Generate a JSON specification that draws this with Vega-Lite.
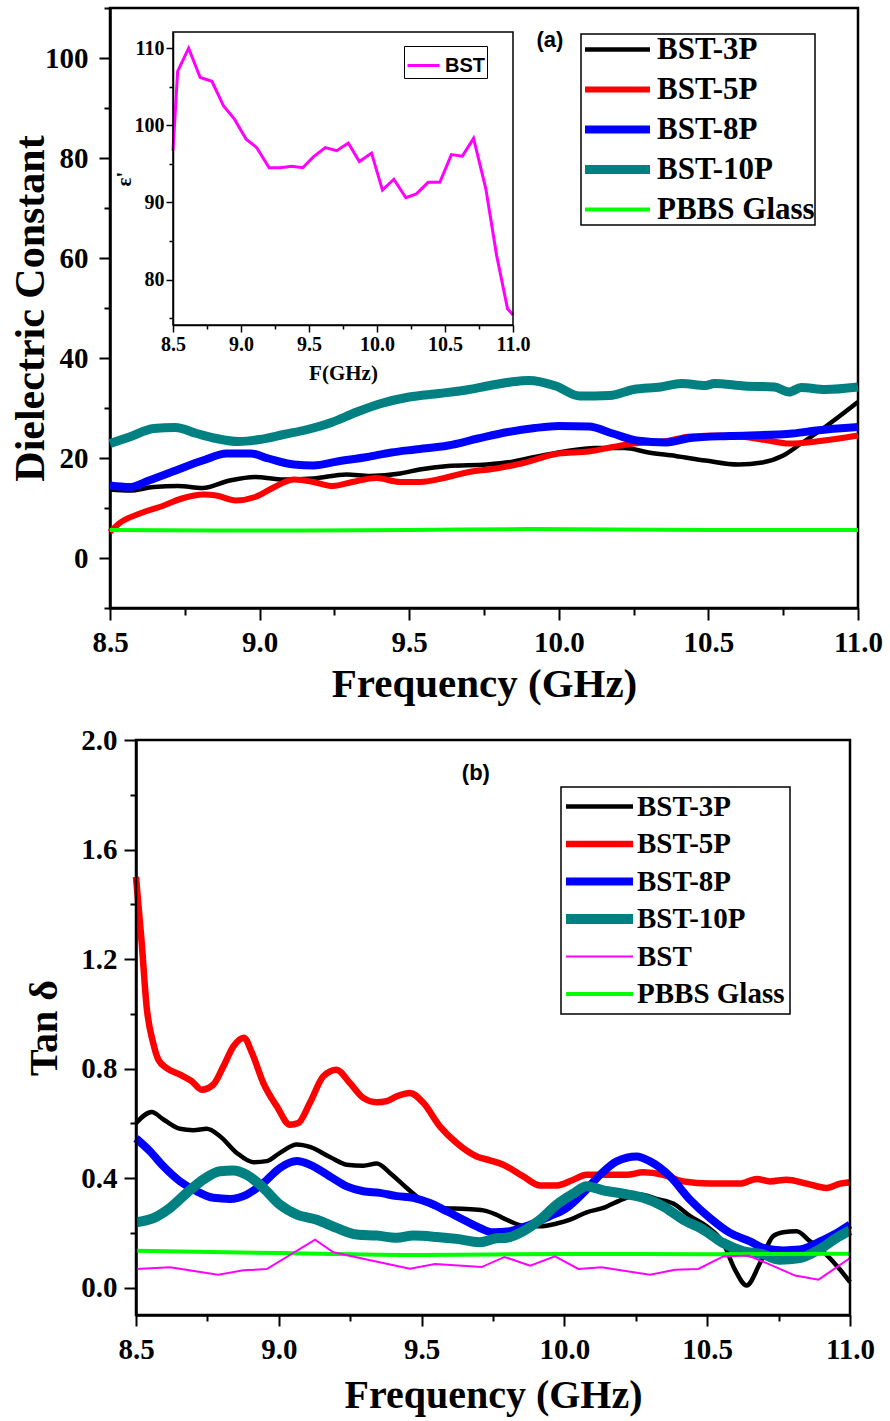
{
  "$schema": "https://vega.github.io/schema/vega-lite/v6.json",
  "background": "white",
  "padding": {"left": 8, "top": 5, "right": 5, "bottom": 5},
  "spacing": 20,
  "resolve": {"scale": {"color": "independent"}, "legend": {"color": "independent"}},
  "datasets": {
    "a": [
      {"f":8.5,"v":13.7,"s":"BST-3P"},{"f":8.565,"v":13.5,"s":"BST-3P"},{"f":8.646,"v":14.2,"s":"BST-3P"},{"f":8.727,"v":14.4,"s":"BST-3P"},{"f":8.81,"v":14.0,"s":"BST-3P"},{"f":8.9,"v":15.5,"s":"BST-3P"},{"f":8.985,"v":16.2,"s":"BST-3P"},{"f":9.08,"v":15.7,"s":"BST-3P"},{"f":9.18,"v":15.9,"s":"BST-3P"},{"f":9.29,"v":16.7,"s":"BST-3P"},{"f":9.37,"v":16.4,"s":"BST-3P"},{"f":9.47,"v":16.9,"s":"BST-3P"},{"f":9.535,"v":17.7,"s":"BST-3P"},{"f":9.63,"v":18.4,"s":"BST-3P"},{"f":9.76,"v":18.7,"s":"BST-3P"},{"f":9.84,"v":19.2,"s":"BST-3P"},{"f":9.92,"v":20.2,"s":"BST-3P"},{"f":10.02,"v":21.3,"s":"BST-3P"},{"f":10.12,"v":22.0,"s":"BST-3P"},{"f":10.22,"v":22.0,"s":"BST-3P"},{"f":10.3,"v":21.1,"s":"BST-3P"},{"f":10.39,"v":20.4,"s":"BST-3P"},{"f":10.49,"v":19.5,"s":"BST-3P"},{"f":10.6,"v":18.7,"s":"BST-3P"},{"f":10.68,"v":19.1,"s":"BST-3P"},{"f":10.75,"v":20.5,"s":"BST-3P"},{"f":10.81,"v":22.9,"s":"BST-3P"},{"f":10.89,"v":26.2,"s":"BST-3P"},{"f":11.0,"v":31.2,"s":"BST-3P"},
      {"f":8.5,"v":5.2,"s":"BST-5P"},{"f":8.53,"v":6.9,"s":"BST-5P"},{"f":8.6,"v":8.9,"s":"BST-5P"},{"f":8.68,"v":10.5,"s":"BST-5P"},{"f":8.74,"v":11.9,"s":"BST-5P"},{"f":8.815,"v":12.7,"s":"BST-5P"},{"f":8.855,"v":12.5,"s":"BST-5P"},{"f":8.92,"v":11.5,"s":"BST-5P"},{"f":8.985,"v":12.2,"s":"BST-5P"},{"f":9.05,"v":14.2,"s":"BST-5P"},{"f":9.115,"v":15.7,"s":"BST-5P"},{"f":9.18,"v":15.2,"s":"BST-5P"},{"f":9.245,"v":14.4,"s":"BST-5P"},{"f":9.31,"v":15.2,"s":"BST-5P"},{"f":9.39,"v":16.0,"s":"BST-5P"},{"f":9.47,"v":15.2,"s":"BST-5P"},{"f":9.535,"v":15.2,"s":"BST-5P"},{"f":9.63,"v":16.2,"s":"BST-5P"},{"f":9.7,"v":17.2,"s":"BST-5P"},{"f":9.79,"v":17.9,"s":"BST-5P"},{"f":9.875,"v":18.9,"s":"BST-5P"},{"f":10.0,"v":20.9,"s":"BST-5P"},{"f":10.1,"v":21.3,"s":"BST-5P"},{"f":10.18,"v":22.2,"s":"BST-5P"},{"f":10.25,"v":22.9,"s":"BST-5P"},{"f":10.35,"v":23.3,"s":"BST-5P"},{"f":10.44,"v":24.3,"s":"BST-5P"},{"f":10.54,"v":24.5,"s":"BST-5P"},{"f":10.62,"v":24.2,"s":"BST-5P"},{"f":10.7,"v":23.5,"s":"BST-5P"},{"f":10.77,"v":22.9,"s":"BST-5P"},{"f":10.86,"v":23.3,"s":"BST-5P"},{"f":11.0,"v":24.5,"s":"BST-5P"},
      {"f":8.5,"v":14.5,"s":"BST-8P"},{"f":8.565,"v":14.2,"s":"BST-8P"},{"f":8.63,"v":15.5,"s":"BST-8P"},{"f":8.71,"v":17.3,"s":"BST-8P"},{"f":8.81,"v":19.5,"s":"BST-8P"},{"f":8.89,"v":20.9,"s":"BST-8P"},{"f":8.97,"v":20.9,"s":"BST-8P"},{"f":9.03,"v":19.9,"s":"BST-8P"},{"f":9.115,"v":18.7,"s":"BST-8P"},{"f":9.18,"v":18.5,"s":"BST-8P"},{"f":9.26,"v":19.3,"s":"BST-8P"},{"f":9.36,"v":20.2,"s":"BST-8P"},{"f":9.44,"v":21.1,"s":"BST-8P"},{"f":9.52,"v":21.7,"s":"BST-8P"},{"f":9.63,"v":22.5,"s":"BST-8P"},{"f":9.73,"v":23.9,"s":"BST-8P"},{"f":9.83,"v":25.2,"s":"BST-8P"},{"f":9.92,"v":26.0,"s":"BST-8P"},{"f":10.0,"v":26.4,"s":"BST-8P"},{"f":10.1,"v":26.3,"s":"BST-8P"},{"f":10.18,"v":24.9,"s":"BST-8P"},{"f":10.26,"v":23.5,"s":"BST-8P"},{"f":10.36,"v":23.1,"s":"BST-8P"},{"f":10.44,"v":24.0,"s":"BST-8P"},{"f":10.57,"v":24.4,"s":"BST-8P"},{"f":10.73,"v":24.7,"s":"BST-8P"},{"f":10.78,"v":24.9,"s":"BST-8P"},{"f":10.86,"v":25.5,"s":"BST-8P"},{"f":11.0,"v":26.2,"s":"BST-8P"},
      {"f":8.5,"v":22.9,"s":"BST-10P"},{"f":8.565,"v":24.2,"s":"BST-10P"},{"f":8.646,"v":25.9,"s":"BST-10P"},{"f":8.718,"v":26.1,"s":"BST-10P"},{"f":8.79,"v":24.9,"s":"BST-10P"},{"f":8.856,"v":23.9,"s":"BST-10P"},{"f":8.93,"v":23.3,"s":"BST-10P"},{"f":9.0,"v":23.7,"s":"BST-10P"},{"f":9.08,"v":24.7,"s":"BST-10P"},{"f":9.16,"v":25.7,"s":"BST-10P"},{"f":9.24,"v":27.1,"s":"BST-10P"},{"f":9.325,"v":29.2,"s":"BST-10P"},{"f":9.406,"v":30.9,"s":"BST-10P"},{"f":9.5,"v":32.2,"s":"BST-10P"},{"f":9.6,"v":32.9,"s":"BST-10P"},{"f":9.7,"v":33.7,"s":"BST-10P"},{"f":9.76,"v":34.4,"s":"BST-10P"},{"f":9.84,"v":35.2,"s":"BST-10P"},{"f":9.9,"v":35.5,"s":"BST-10P"},{"f":9.99,"v":34.4,"s":"BST-10P"},{"f":10.07,"v":32.4,"s":"BST-10P"},{"f":10.17,"v":32.5,"s":"BST-10P"},{"f":10.25,"v":33.7,"s":"BST-10P"},{"f":10.34,"v":34.2,"s":"BST-10P"},{"f":10.41,"v":34.9,"s":"BST-10P"},{"f":10.49,"v":34.5,"s":"BST-10P"},{"f":10.52,"v":34.9,"s":"BST-10P"},{"f":10.62,"v":34.4,"s":"BST-10P"},{"f":10.72,"v":34.2,"s":"BST-10P"},{"f":10.77,"v":33.2,"s":"BST-10P"},{"f":10.81,"v":34.1,"s":"BST-10P"},{"f":10.89,"v":33.7,"s":"BST-10P"},{"f":11.0,"v":34.2,"s":"BST-10P"},
      {"f":8.5,"v":5.6,"s":"PBBS Glass"},{"f":9.0,"v":5.5,"s":"PBBS Glass"},{"f":9.5,"v":5.6,"s":"PBBS Glass"},{"f":9.9,"v":5.8,"s":"PBBS Glass"},{"f":10.5,"v":5.6,"s":"PBBS Glass"},{"f":11.0,"v":5.6,"s":"PBBS Glass"}
    ],
    "eps": [
      {"f":8.5,"v":96.7,"s":"BST"},{"f":8.534,"v":107.0,"s":"BST"},{"f":8.615,"v":110.0,"s":"BST"},{"f":8.7,"v":106.2,"s":"BST"},{"f":8.786,"v":105.7,"s":"BST"},{"f":8.872,"v":102.5,"s":"BST"},{"f":8.952,"v":100.8,"s":"BST"},{"f":9.038,"v":98.2,"s":"BST"},{"f":9.116,"v":97.1,"s":"BST"},{"f":9.207,"v":94.5,"s":"BST"},{"f":9.288,"v":94.5,"s":"BST"},{"f":9.373,"v":94.7,"s":"BST"},{"f":9.454,"v":94.5,"s":"BST"},{"f":9.532,"v":95.9,"s":"BST"},{"f":9.62,"v":97.1,"s":"BST"},{"f":9.703,"v":96.7,"s":"BST"},{"f":9.789,"v":97.7,"s":"BST"},{"f":9.87,"v":95.3,"s":"BST"},{"f":9.96,"v":96.4,"s":"BST"},{"f":10.04,"v":91.6,"s":"BST"},{"f":10.124,"v":93.0,"s":"BST"},{"f":10.212,"v":90.6,"s":"BST"},{"f":10.29,"v":91.1,"s":"BST"},{"f":10.376,"v":92.6,"s":"BST"},{"f":10.462,"v":92.6,"s":"BST"},{"f":10.547,"v":96.2,"s":"BST"},{"f":10.628,"v":96.0,"s":"BST"},{"f":10.71,"v":98.3,"s":"BST"},{"f":10.8,"v":91.8,"s":"BST"},{"f":10.88,"v":83.1,"s":"BST"},{"f":10.96,"v":76.2,"s":"BST"},{"f":11.0,"v":75.4,"s":"BST"}
    ],
    "b": [
      {"f":8.5,"v":0.6,"s":"BST-3P"},{"f":8.555,"v":0.641,"s":"BST-3P"},{"f":8.596,"v":0.614,"s":"BST-3P"},{"f":8.654,"v":0.58,"s":"BST-3P"},{"f":8.701,"v":0.575,"s":"BST-3P"},{"f":8.748,"v":0.58,"s":"BST-3P"},{"f":8.794,"v":0.553,"s":"BST-3P"},{"f":8.853,"v":0.492,"s":"BST-3P"},{"f":8.911,"v":0.458,"s":"BST-3P"},{"f":8.958,"v":0.462,"s":"BST-3P"},{"f":9.004,"v":0.492,"s":"BST-3P"},{"f":9.063,"v":0.523,"s":"BST-3P"},{"f":9.109,"v":0.514,"s":"BST-3P"},{"f":9.179,"v":0.477,"s":"BST-3P"},{"f":9.238,"v":0.449,"s":"BST-3P"},{"f":9.296,"v":0.445,"s":"BST-3P"},{"f":9.343,"v":0.453,"s":"BST-3P"},{"f":9.389,"v":0.419,"s":"BST-3P"},{"f":9.448,"v":0.364,"s":"BST-3P"},{"f":9.494,"v":0.324,"s":"BST-3P"},{"f":9.564,"v":0.291,"s":"BST-3P"},{"f":9.658,"v":0.287,"s":"BST-3P"},{"f":9.716,"v":0.282,"s":"BST-3P"},{"f":9.762,"v":0.266,"s":"BST-3P"},{"f":9.798,"v":0.248,"s":"BST-3P"},{"f":9.856,"v":0.226,"s":"BST-3P"},{"f":9.915,"v":0.224,"s":"BST-3P"},{"f":9.973,"v":0.234,"s":"BST-3P"},{"f":10.02,"v":0.248,"s":"BST-3P"},{"f":10.078,"v":0.275,"s":"BST-3P"},{"f":10.136,"v":0.291,"s":"BST-3P"},{"f":10.195,"v":0.319,"s":"BST-3P"},{"f":10.265,"v":0.34,"s":"BST-3P"},{"f":10.323,"v":0.324,"s":"BST-3P"},{"f":10.381,"v":0.307,"s":"BST-3P"},{"f":10.44,"v":0.261,"s":"BST-3P"},{"f":10.498,"v":0.224,"s":"BST-3P"},{"f":10.556,"v":0.163,"s":"BST-3P"},{"f":10.597,"v":0.066,"s":"BST-3P"},{"f":10.638,"v":0.008,"s":"BST-3P"},{"f":10.685,"v":0.09,"s":"BST-3P"},{"f":10.731,"v":0.188,"s":"BST-3P"},{"f":10.766,"v":0.202,"s":"BST-3P"},{"f":10.813,"v":0.206,"s":"BST-3P"},{"f":10.86,"v":0.169,"s":"BST-3P"},{"f":10.918,"v":0.12,"s":"BST-3P"},{"f":10.965,"v":0.066,"s":"BST-3P"},{"f":11.0,"v":0.02,"s":"BST-3P"},
      {"f":8.5,"v":1.5,"s":"BST-5P"},{"f":8.52,"v":1.259,"s":"BST-5P"},{"f":8.537,"v":1.028,"s":"BST-5P"},{"f":8.56,"v":0.894,"s":"BST-5P"},{"f":8.578,"v":0.833,"s":"BST-5P"},{"f":8.607,"v":0.802,"s":"BST-5P"},{"f":8.654,"v":0.778,"s":"BST-5P"},{"f":8.695,"v":0.754,"s":"BST-5P"},{"f":8.73,"v":0.723,"s":"BST-5P"},{"f":8.771,"v":0.742,"s":"BST-5P"},{"f":8.806,"v":0.808,"s":"BST-5P"},{"f":8.841,"v":0.881,"s":"BST-5P"},{"f":8.878,"v":0.913,"s":"BST-5P"},{"f":8.905,"v":0.86,"s":"BST-5P"},{"f":8.946,"v":0.747,"s":"BST-5P"},{"f":8.993,"v":0.662,"s":"BST-5P"},{"f":9.039,"v":0.595,"s":"BST-5P"},{"f":9.068,"v":0.601,"s":"BST-5P"},{"f":9.109,"v":0.675,"s":"BST-5P"},{"f":9.156,"v":0.772,"s":"BST-5P"},{"f":9.202,"v":0.796,"s":"BST-5P"},{"f":9.249,"v":0.747,"s":"BST-5P"},{"f":9.296,"v":0.693,"s":"BST-5P"},{"f":9.343,"v":0.677,"s":"BST-5P"},{"f":9.378,"v":0.681,"s":"BST-5P"},{"f":9.413,"v":0.699,"s":"BST-5P"},{"f":9.459,"v":0.711,"s":"BST-5P"},{"f":9.506,"v":0.675,"s":"BST-5P"},{"f":9.564,"v":0.589,"s":"BST-5P"},{"f":9.623,"v":0.528,"s":"BST-5P"},{"f":9.693,"v":0.479,"s":"BST-5P"},{"f":9.739,"v":0.465,"s":"BST-5P"},{"f":9.786,"v":0.449,"s":"BST-5P"},{"f":9.856,"v":0.406,"s":"BST-5P"},{"f":9.915,"v":0.373,"s":"BST-5P"},{"f":9.973,"v":0.373,"s":"BST-5P"},{"f":10.031,"v":0.394,"s":"BST-5P"},{"f":10.078,"v":0.412,"s":"BST-5P"},{"f":10.148,"v":0.412,"s":"BST-5P"},{"f":10.218,"v":0.412,"s":"BST-5P"},{"f":10.276,"v":0.421,"s":"BST-5P"},{"f":10.346,"v":0.412,"s":"BST-5P"},{"f":10.416,"v":0.388,"s":"BST-5P"},{"f":10.51,"v":0.38,"s":"BST-5P"},{"f":10.615,"v":0.38,"s":"BST-5P"},{"f":10.673,"v":0.397,"s":"BST-5P"},{"f":10.72,"v":0.388,"s":"BST-5P"},{"f":10.778,"v":0.394,"s":"BST-5P"},{"f":10.848,"v":0.38,"s":"BST-5P"},{"f":10.918,"v":0.364,"s":"BST-5P"},{"f":10.965,"v":0.38,"s":"BST-5P"},{"f":11.0,"v":0.385,"s":"BST-5P"},
      {"f":8.5,"v":0.545,"s":"BST-8P"},{"f":8.549,"v":0.498,"s":"BST-8P"},{"f":8.596,"v":0.443,"s":"BST-8P"},{"f":8.654,"v":0.388,"s":"BST-8P"},{"f":8.712,"v":0.352,"s":"BST-8P"},{"f":8.771,"v":0.328,"s":"BST-8P"},{"f":8.829,"v":0.324,"s":"BST-8P"},{"f":8.888,"v":0.34,"s":"BST-8P"},{"f":8.946,"v":0.382,"s":"BST-8P"},{"f":9.004,"v":0.437,"s":"BST-8P"},{"f":9.063,"v":0.462,"s":"BST-8P"},{"f":9.109,"v":0.449,"s":"BST-8P"},{"f":9.179,"v":0.406,"s":"BST-8P"},{"f":9.238,"v":0.37,"s":"BST-8P"},{"f":9.296,"v":0.352,"s":"BST-8P"},{"f":9.354,"v":0.346,"s":"BST-8P"},{"f":9.413,"v":0.334,"s":"BST-8P"},{"f":9.471,"v":0.328,"s":"BST-8P"},{"f":9.529,"v":0.309,"s":"BST-8P"},{"f":9.588,"v":0.279,"s":"BST-8P"},{"f":9.646,"v":0.248,"s":"BST-8P"},{"f":9.704,"v":0.218,"s":"BST-8P"},{"f":9.75,"v":0.202,"s":"BST-8P"},{"f":9.809,"v":0.206,"s":"BST-8P"},{"f":9.88,"v":0.23,"s":"BST-8P"},{"f":9.95,"v":0.261,"s":"BST-8P"},{"f":10.008,"v":0.291,"s":"BST-8P"},{"f":10.066,"v":0.346,"s":"BST-8P"},{"f":10.125,"v":0.412,"s":"BST-8P"},{"f":10.183,"v":0.461,"s":"BST-8P"},{"f":10.253,"v":0.479,"s":"BST-8P"},{"f":10.3,"v":0.461,"s":"BST-8P"},{"f":10.37,"v":0.406,"s":"BST-8P"},{"f":10.44,"v":0.321,"s":"BST-8P"},{"f":10.51,"v":0.254,"s":"BST-8P"},{"f":10.58,"v":0.2,"s":"BST-8P"},{"f":10.65,"v":0.169,"s":"BST-8P"},{"f":10.697,"v":0.145,"s":"BST-8P"},{"f":10.766,"v":0.136,"s":"BST-8P"},{"f":10.825,"v":0.139,"s":"BST-8P"},{"f":10.895,"v":0.169,"s":"BST-8P"},{"f":10.954,"v":0.2,"s":"BST-8P"},{"f":11.0,"v":0.23,"s":"BST-8P"},
      {"f":8.5,"v":0.239,"s":"BST-10P"},{"f":8.561,"v":0.254,"s":"BST-10P"},{"f":8.619,"v":0.291,"s":"BST-10P"},{"f":8.678,"v":0.346,"s":"BST-10P"},{"f":8.736,"v":0.395,"s":"BST-10P"},{"f":8.794,"v":0.425,"s":"BST-10P"},{"f":8.841,"v":0.428,"s":"BST-10P"},{"f":8.888,"v":0.412,"s":"BST-10P"},{"f":8.946,"v":0.364,"s":"BST-10P"},{"f":9.004,"v":0.303,"s":"BST-10P"},{"f":9.063,"v":0.267,"s":"BST-10P"},{"f":9.133,"v":0.248,"s":"BST-10P"},{"f":9.202,"v":0.218,"s":"BST-10P"},{"f":9.273,"v":0.194,"s":"BST-10P"},{"f":9.343,"v":0.19,"s":"BST-10P"},{"f":9.413,"v":0.182,"s":"BST-10P"},{"f":9.471,"v":0.19,"s":"BST-10P"},{"f":9.553,"v":0.185,"s":"BST-10P"},{"f":9.623,"v":0.178,"s":"BST-10P"},{"f":9.704,"v":0.166,"s":"BST-10P"},{"f":9.762,"v":0.18,"s":"BST-10P"},{"f":9.798,"v":0.182,"s":"BST-10P"},{"f":9.856,"v":0.206,"s":"BST-10P"},{"f":9.915,"v":0.248,"s":"BST-10P"},{"f":9.973,"v":0.303,"s":"BST-10P"},{"f":10.031,"v":0.343,"s":"BST-10P"},{"f":10.078,"v":0.37,"s":"BST-10P"},{"f":10.136,"v":0.355,"s":"BST-10P"},{"f":10.206,"v":0.343,"s":"BST-10P"},{"f":10.276,"v":0.328,"s":"BST-10P"},{"f":10.346,"v":0.297,"s":"BST-10P"},{"f":10.416,"v":0.248,"s":"BST-10P"},{"f":10.486,"v":0.212,"s":"BST-10P"},{"f":10.556,"v":0.163,"s":"BST-10P"},{"f":10.626,"v":0.133,"s":"BST-10P"},{"f":10.697,"v":0.121,"s":"BST-10P"},{"f":10.754,"v":0.102,"s":"BST-10P"},{"f":10.825,"v":0.108,"s":"BST-10P"},{"f":10.895,"v":0.141,"s":"BST-10P"},{"f":10.954,"v":0.182,"s":"BST-10P"},{"f":11.0,"v":0.209,"s":"BST-10P"},
      {"f":8.5,"v":0.068,"s":"BST"},{"f":8.619,"v":0.074,"s":"BST"},{"f":8.788,"v":0.047,"s":"BST"},{"f":8.876,"v":0.063,"s":"BST"},{"f":8.958,"v":0.068,"s":"BST"},{"f":9.127,"v":0.175,"s":"BST"},{"f":9.191,"v":0.129,"s":"BST"},{"f":9.32,"v":0.1,"s":"BST"},{"f":9.459,"v":0.069,"s":"BST"},{"f":9.547,"v":0.086,"s":"BST"},{"f":9.71,"v":0.075,"s":"BST"},{"f":9.79,"v":0.112,"s":"BST"},{"f":9.88,"v":0.08,"s":"BST"},{"f":9.967,"v":0.114,"s":"BST"},{"f":10.049,"v":0.068,"s":"BST"},{"f":10.13,"v":0.074,"s":"BST"},{"f":10.3,"v":0.047,"s":"BST"},{"f":10.387,"v":0.065,"s":"BST"},{"f":10.469,"v":0.068,"s":"BST"},{"f":10.556,"v":0.114,"s":"BST"},{"f":10.644,"v":0.117,"s":"BST"},{"f":10.72,"v":0.084,"s":"BST"},{"f":10.808,"v":0.044,"s":"BST"},{"f":10.89,"v":0.029,"s":"BST"},{"f":11.0,"v":0.108,"s":"BST"},
      {"f":8.5,"v":0.135,"s":"PBBS Glass"},{"f":9.0,"v":0.126,"s":"PBBS Glass"},{"f":9.5,"v":0.119,"s":"PBBS Glass"},{"f":10.0,"v":0.123,"s":"PBBS Glass"},{"f":10.5,"v":0.122,"s":"PBBS Glass"},{"f":11.0,"v":0.124,"s":"PBBS Glass"}
    ]
  },
  "vconcat": [
    {
      "width": 748,
      "height": 600,
      "layer": [
        {
          "data": {"name": "a"},
          "layer": [
            {
              "mark": {"type": "line", "interpolate": "monotone"},
              "encoding": {
                "x": {"field": "f", "type": "quantitative",
                  "scale": {"domain": [8.5, 11], "nice": false, "zero": false},
                  "axis": {"orient": "bottom", "values": [8.5, 9, 9.5, 10, 10.5, 11], "format": ".1f", "tickSize": 12,
                    "labelFontSize": 29, "labelPadding": 8, "title": "Frequency (GHz)", "titleFontSize": 41, "titlePadding": 7}},
                "y": {"field": "v", "type": "quantitative",
                  "scale": {"domain": [-10, 110], "nice": false, "zero": false},
                  "axis": {"orient": "left", "values": [0, 20, 40, 60, 80, 100], "tickSize": 11,
                    "labelFontSize": 29, "labelPadding": 11, "title": "Dielectric Constant", "titleFontSize": 42, "titlePadding": -8}},
                "color": {"field": "s", "type": "nominal",
                  "scale": {"domain": ["BST-3P", "BST-5P", "BST-8P", "BST-10P", "PBBS Glass"], "range": ["#000000", "#ff0000", "#0000ff", "#008080", "#00ff00"]},
                  "legend": {"orient": "none", "legendX": 471, "legendY": 26, "direction": "vertical", "title": null,
                    "symbolType": "M-4,0H4", "symbolSize": 264, "symbolOffset": 21, "labelFontSize": 31, "labelOffset": 24, "rowPadding": 8, "padding": 0,
                    "strokeColor": "black", "fillColor": "white",
                    "encode": {"symbols": {"update": {"strokeJoin": {"value": "round"}, "strokeCap": {"value": "butt"},
                                 "strokeWidth": {"signal": "datum.value === 'BST-10P' ? 9 : datum.value === 'BST-8P' ? 8 : datum.value === 'BST-5P' ? 6 : datum.value === 'BST-3P' ? 4.5 : 4"}}},
                               "legend": {"update": {"strokeWidth": {"value": 1.5}}}}}},
                "strokeWidth": {"condition": [
                  {"test": "datum.s === 'BST-10P'", "value": 9},
                  {"test": "datum.s === 'BST-8P'", "value": 8},
                  {"test": "datum.s === 'BST-5P'", "value": 6},
                  {"test": "datum.s === 'PBBS Glass'", "value": 4}], "value": 4.5}
              }
            },
            {
              "data": {"values": [{"t": "(a)"}]},
              "mark": {"type": "text", "font": "Liberation Sans", "fontWeight": "bold", "fontSize": 22, "color": "black"},
              "encoding": {
                "x": {"datum": 9.97, "type": "quantitative",
                  "axis": {"orient": "bottom", "values": [8.75, 9.25, 9.75, 10.25, 10.75], "tickSize": 7, "labels": false, "domain": false, "title": null}},
                "y": {"datum": 103.6, "type": "quantitative",
                  "axis": {"orient": "left", "values": [-10, 10, 30, 50, 70, 90, 110], "tickSize": 6, "labels": false, "domain": false, "title": null}},
                "text": {"field": "t"}
              }
            }
          ],
          "resolve": {"axis": {"x": "independent", "y": "independent"}}
        },
        {
          "layer": [
            {
              "data": {"name": "eps"},
              "mark": {"type": "line", "strokeWidth": 3},
              "encoding": {
                "x": {"field": "f", "type": "quantitative",
                  "scale": {"domain": [8.5, 11], "range": [63, 403], "nice": false, "zero": false},
                  "axis": {"orient": "bottom", "offset": -283, "values": [8.5, 9, 9.5, 10, 10.5, 11], "format": ".1f", "tickSize": 7,
                    "labelFontSize": 20, "labelPadding": 2, "title": "F(GHz)", "titleFontSize": 21, "titlePadding": 8, "domainWidth": 1.5, "tickWidth": 1.5}},
                "y": {"field": "v", "type": "quantitative",
                  "scale": {"domain": [74.1, 112.1], "range": [317, 24], "nice": false, "zero": false},
                  "axis": {"orient": "left", "offset": -63, "values": [80, 90, 100, 110], "tickSize": 7,
                    "labelFontSize": 20, "labelPadding": 2, "title": "ε'", "titleFontSize": 21, "titlePadding": 0, "domainWidth": 1.5, "tickWidth": 1.5}},
                "color": {"field": "s", "type": "nominal",
                  "scale": {"domain": ["BST"], "range": ["#ff00ff"]},
                  "legend": {"orient": "none", "legendX": 294, "legendY": 38, "direction": "vertical", "title": null,
                    "symbolType": "stroke", "symbolSize": 1024, "symbolStrokeWidth": 3,
                    "labelFont": "Liberation Sans", "labelFontSize": 20, "labelOffset": 4, "padding": 2,
                    "strokeColor": "black", "fillColor": "white"}}
              }
            },
            {
              "data": {"values": [{"k": "frame"}]},
              "mark": {"type": "rect", "filled": false, "stroke": "black", "strokeWidth": 1.5},
              "encoding": {
                "x": {"datum": 8.5, "type": "quantitative",
                  "axis": {"orient": "bottom", "offset": -283, "values": [8.75, 9.25, 9.75, 10.25, 10.75], "tickSize": 4, "labels": false, "domain": false, "title": null, "tickWidth": 1.5}},
                "x2": {"datum": 11},
                "y": {"datum": 74.1, "type": "quantitative",
                  "axis": {"orient": "left", "offset": -63, "values": [75, 85, 95, 105], "tickSize": 4, "labels": false, "domain": false, "title": null, "tickWidth": 1.5}},
                "y2": {"datum": 112.1}
              }
            }
          ],
          "resolve": {"axis": {"x": "independent", "y": "independent"}}
        }
      ],
      "resolve": {"scale": {"x": "independent", "y": "independent", "color": "independent"}}
    },
    {
      "width": 740,
      "height": 575,
      "view": {"stroke": null},
      "data": {"name": "b"},
      "layer": [
        {
          "transform": [{"filter": "datum.s !== 'BST'"}],
          "mark": {"type": "line", "interpolate": "monotone"},
          "encoding": {
            "x": {"field": "f", "type": "quantitative",
              "scale": {"domain": [8.5, 11], "range": [26, 740], "nice": false, "zero": false},
              "axis": {"orient": "bottom", "values": [8.5, 9, 9.5, 10, 10.5, 11], "format": ".1f", "tickSize": 11,
                "labelFontSize": 29, "labelPadding": 9, "title": "Frequency (GHz)", "titleFontSize": 40, "titlePadding": 11}},
            "y": {"field": "v", "type": "quantitative",
              "scale": {"domain": [-0.1, 2.0], "nice": false, "zero": false},
              "axis": {"orient": "left", "offset": -26, "values": [0, 0.4, 0.8, 1.2, 1.6, 2.0], "format": ".1f", "tickSize": 12,
                "labelFontSize": 29, "labelPadding": 7, "title": "Tan δ", "titleFontSize": 40, "titlePadding": 16}},
            "color": {"field": "s", "type": "nominal",
              "scale": {"domain": ["BST-3P", "BST-5P", "BST-8P", "BST-10P", "BST", "PBBS Glass"], "range": ["#000000", "#ff0000", "#0000ff", "#008080", "#ff00ff", "#00ff00"]},
              "legend": {"orient": "none", "legendX": 451, "legendY": 47, "direction": "vertical", "title": null,
                "symbolType": "M-4,0H4", "symbolSize": 281, "symbolOffset": 19, "labelFontSize": 29, "labelOffset": 23, "rowPadding": 7.5, "padding": 5,
                "strokeColor": "black", "fillColor": "white",
                "encode": {"symbols": {"update": {"strokeJoin": {"value": "round"}, "strokeCap": {"value": "butt"},
                             "strokeWidth": {"signal": "datum.value === 'BST-10P' ? 10 : datum.value === 'BST-8P' ? 8 : datum.value === 'BST-5P' ? 6.5 : datum.value === 'BST-3P' ? 4.5 : datum.value === 'BST' ? 2 : 4"}}},
                           "legend": {"update": {"strokeWidth": {"value": 1.5}}}}}},
            "strokeWidth": {"condition": [
              {"test": "datum.s === 'BST-10P'", "value": 10},
              {"test": "datum.s === 'BST-8P'", "value": 8},
              {"test": "datum.s === 'BST-5P'", "value": 6.5},
              {"test": "datum.s === 'PBBS Glass'", "value": 4}], "value": 4.5}
          }
        },
        {
          "transform": [{"filter": "datum.s === 'BST'"}],
          "mark": {"type": "line", "strokeWidth": 2},
          "encoding": {
            "x": {"field": "f", "type": "quantitative",
              "axis": {"orient": "bottom", "values": [8.75, 9.25, 9.75, 10.25, 10.75], "tickSize": 6, "labels": false, "domain": false, "title": null}},
            "y": {"field": "v", "type": "quantitative",
              "axis": {"orient": "left", "offset": -26, "values": [0.2, 0.6, 1.0, 1.4, 1.8], "tickSize": 6, "labels": false, "domain": false, "title": null}},
            "color": {"field": "s", "type": "nominal"}
          }
        },
        {
          "data": {"values": [{"k": "frame"}]},
          "mark": {"type": "rect", "filled": false, "stroke": "black", "strokeWidth": 2.5},
          "encoding": {
            "x": {"datum": 8.5, "type": "quantitative", "axis": null},
            "x2": {"datum": 11},
            "y": {"datum": -0.1, "type": "quantitative", "axis": null},
            "y2": {"datum": 2.0}
          }
        },
        {
          "data": {"values": [{"t": "(b)"}]},
          "mark": {"type": "text", "font": "Liberation Sans", "fontWeight": "bold", "fontSize": 22, "color": "black"},
          "encoding": {
            "x": {"datum": 9.69, "type": "quantitative", "axis": null},
            "y": {"datum": 1.881, "type": "quantitative", "axis": null},
            "text": {"field": "t"}
          }
        }
      ],
      "resolve": {"axis": {"x": "independent", "y": "independent"}}
    }
  ],
  "config": {
    "view": {"stroke": "black", "strokeWidth": 2.5},
    "axis": {"grid": false, "domainColor": "black", "domainWidth": 2.5, "tickColor": "black", "tickWidth": 2,
      "labelColor": "black", "titleColor": "black", "labelFont": "Liberation Serif", "titleFont": "Liberation Serif",
      "labelFontWeight": "bold", "titleFontWeight": "bold", "labelFlush": false, "labelOverlap": false, "labelBound": false},
    "legend": {"labelColor": "black", "labelFont": "Liberation Serif", "labelFontWeight": "bold", "labelLimit": 400}
  }
}
